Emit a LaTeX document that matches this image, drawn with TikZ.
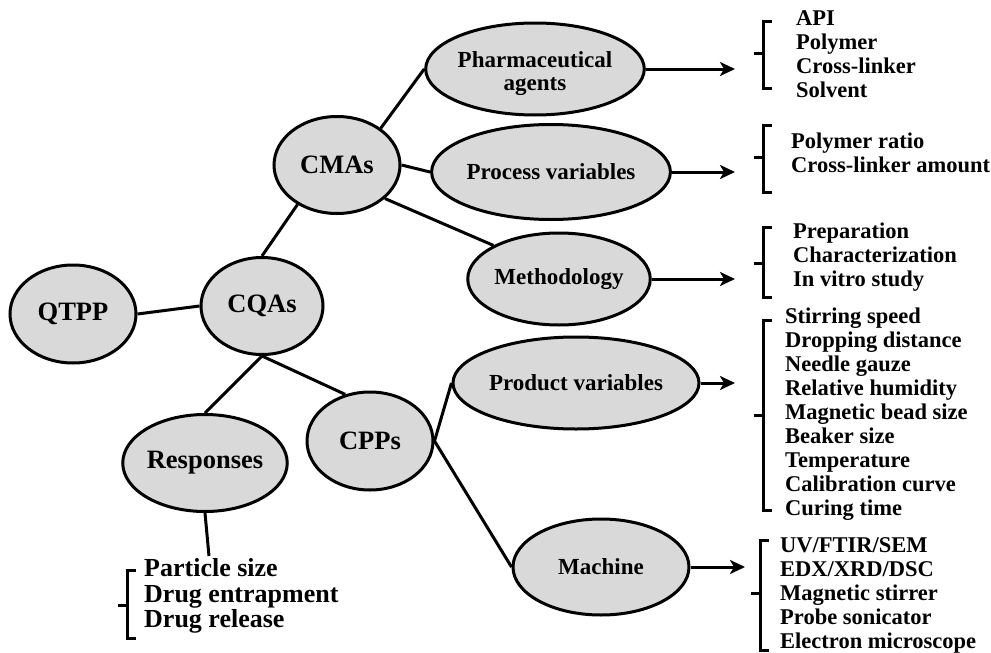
\documentclass[tikz,border=0pt]{standalone}
\usepackage{fontspec}
\setmainfont{Liberation Serif}
\usetikzlibrary{arrows.meta,shapes.geometric}
\tikzset{
  bubble/.style={ellipse,draw=black,line width=3pt,fill=bubblegray,inner sep=0pt,font=\bfseries\fontsize{26.5}{28}\selectfont},
  subbubble/.style={bubble,font=\bfseries\fontsize{23}{25}\selectfont,align=center},
  link/.style={line width=3pt},
  arr/.style={line width=3pt,-{Stealth[length=15pt,width=14pt,inset=4pt]}},
  brk/.style={line width=3pt},
  listtxt/.style={anchor=west,align=left,inner sep=0pt,font=\bfseries\fontsize{22.5}{24}\selectfont},
}
\definecolor{bubblegray}{HTML}{D9D9D9}
\newcommand\mybrk[4]{% x, top, bottom, tick y
  \draw[brk] (#1+9,#2) -- (#1,#2) -- (#1,#3) -- (#1+9,#3);
  \draw[brk] (#1,#4) -- (#1-9,#4);}
\begin{document}
\begin{tikzpicture}[x=1pt,y=-1pt]
\useasboundingbox[fill=white] (0,0) rectangle (991,653);
% main nodes
\node[bubble,minimum width=126pt,minimum height=98pt] (qtpp) at (73,314) {QTPP};
\node[bubble,minimum width=122pt,minimum height=97pt] (cqas) at (262,306) {CQAs};
\node[bubble,minimum width=126pt,minimum height=97pt] (cmas) at (337,165) {CMAs};
\node[bubble,minimum width=126pt,minimum height=97pt] (resp) at (205,463) {Responses};
\node[bubble,minimum width=126pt,minimum height=98pt] (cpps) at (370,441) {CPPs};
% second level
\node[subbubble,minimum width=176pt,minimum height=92pt] (pharm) at (535,69) {\rule{0pt}{26pt}Pharmaceutical\\[-2pt]agents};
\node[subbubble,minimum width=174pt,minimum height=95pt] (proc) at (551,172) {Process variables};
\node[subbubble,minimum width=176pt,minimum height=92pt] (meth) at (559,279) {Methodology};
\node[subbubble,minimum width=176pt,minimum height=92pt] (prod) at (576,383) {Product variables};
\node[subbubble,minimum width=176pt,minimum height=96pt] (mach) at (601,567) {Machine};
% connectors
\draw[link] (qtpp.east) -- (cqas.west);
\draw[link] (cqas.north) -- (cmas.225);
\draw[link] (cmas.40) -- (pharm.west);
\draw[link] (cmas.east) -- (proc.west);
\draw[link] (cmas.-35) -- (meth.north west);
\draw[link] (cqas.south) -- (resp.north);
\draw[link] (cqas.south) -- (cpps.118);
\draw[link] (cpps.east) -- (prod.west);
\draw[link] (cpps.east) -- (mach.west);
% arrow targets
\coordinate (ta) at (735,67);
\coordinate (tb) at (735,171);
\coordinate (tc) at (735,275);
\coordinate (td) at (735,380);
\coordinate (te) at (745,571);
\coordinate (tr) at (209,556);
\draw[arr] (pharm.east) -- (pharm.east -| ta);
\draw[arr] (proc.east) -- (proc.east -| tb);
\draw[arr] (meth.east) -- (meth.east -| tc);
\draw[arr] (prod.east) -- (prod.east -| td);
\draw[arr] (mach.east) -- (mach.east -| te);
\draw[link] (resp.south) -- (tr);
% brackets
\mybrk{763}{21}{88}{53}
\mybrk{763}{125}{192}{157}
\mybrk{763}{227}{297}{263}
\mybrk{763}{320}{510}{415}
\mybrk{760}{540}{650}{593}
\mybrk{127}{570}{638}{605}
% lists
\node[listtxt] (la) at (796,54) {API\\Polymer\\Cross-linker\\Solvent};
\node[listtxt] (lb) at (791,153) {Polymer ratio\\Cross-linker amount};
\node[listtxt] (lc) at (793,257) {Preparation\\Characterization\\In vitro study};
\node[listtxt] (ld) at (785,414) {Stirring speed\\Dropping distance\\Needle gauze\\Relative humidity\\Magnetic bead size\\Beaker size\\Temperature\\Calibration curve\\Curing time};
\node[listtxt] (le) at (780,595) {UV/FTIR/SEM\\EDX/XRD/DSC\\Magnetic stirrer\\Probe sonicator\\Electron microscope};
\node[listtxt,font=\bfseries\fontsize{26}{25.5}\selectfont] (lr) at (144,596) {Particle size\\Drug entrapment\\Drug release};
\end{tikzpicture}
\end{document}
